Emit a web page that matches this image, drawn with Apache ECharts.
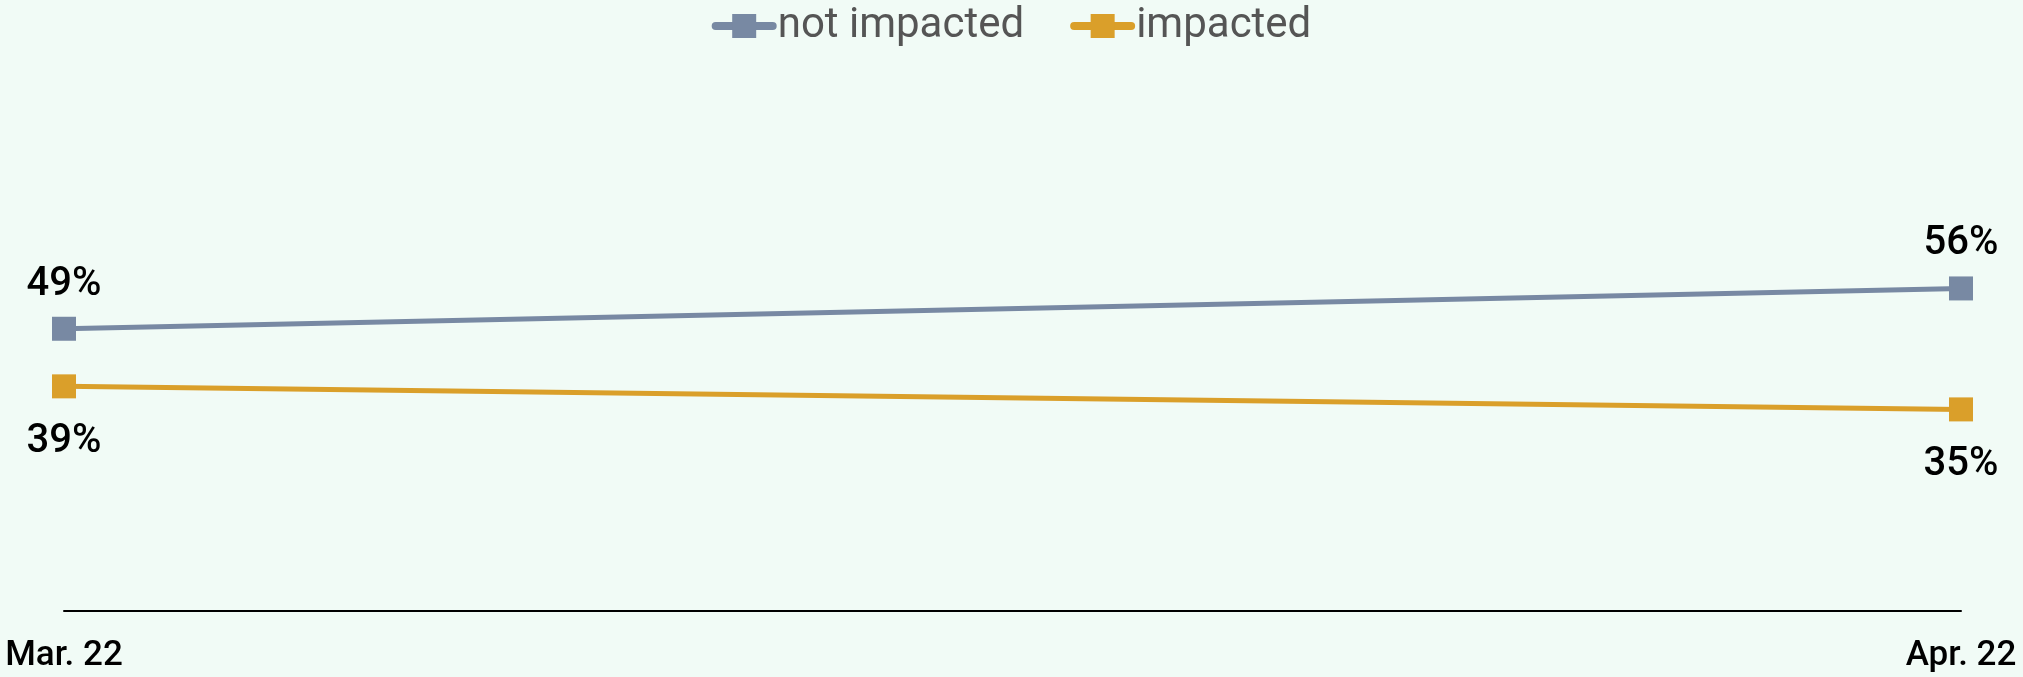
<!DOCTYPE html>
<html>
<head>
<meta charset="utf-8">
<script src="https://cdn.jsdelivr.net/npm/echarts@6/dist/echarts.min.js"></script>
<style>
html,body{margin:0;padding:0;background:#F1FBF6;}
#c{width:2023px;height:677px;}
</style>
</head>
<body>
<div id="c"></div>
<script>
var categories = ['Mar. 22', 'Apr. 22'];
var notImpacted = [49, 56];
var impacted = [39, 35];
var seriesNames = ['not impacted', 'impacted'];

var chart = echarts.init(document.getElementById('c'));
var FONT = 'Roboto';
function mk(name, data, color, pos, dist) {
  return {
    name: name,
    type: 'line',
    data: data,
    symbol: 'rect',
    symbolSize: 24,
    itemStyle: {color: color},
    lineStyle: {color: color, width: 5},
    label: {
      show: true,
      position: pos,
      distance: dist,
      formatter: '{c}%',
      fontFamily: FONT,
      fontSize: 40,
      fontWeight: 500,
      color: '#000'
    },
    emphasis: {disabled: true},
    animation: false
  };
}
chart.setOption({
  backgroundColor: '#F1FBF6',
  animation: false,
  legend: {
    left: 'center',
    top: 0,
    itemWidth: 57,
    itemHeight: 30,
    itemGap: 46,
    lineStyle: {width: 8, cap: 'round'},
    textStyle: {fontFamily: FONT, fontSize: 42, color: '#555'},
    data: seriesNames
  },
  grid: {left: 64, right: 62, top: 35, bottom: 66},
  xAxis: {
    type: 'category',
    data: categories,
    boundaryGap: false,
    axisLine: {lineStyle: {color: '#000', width: 2}},
    axisTick: {show: false},
    axisLabel: {fontFamily: FONT, fontSize: 35, fontWeight: 500, color: '#000', margin: 28}
  },
  yAxis: {
    type: 'value',
    min: 0,
    max: 100,
    show: false,
    splitLine: {show: false}
  },
  series: [
    mk(seriesNames[0], notImpacted, '#7889A3', 'top', 12),
    mk(seriesNames[1], impacted, '#DA9F2A', 'bottom', 24)
  ]
});
</script>
</body>
</html>
